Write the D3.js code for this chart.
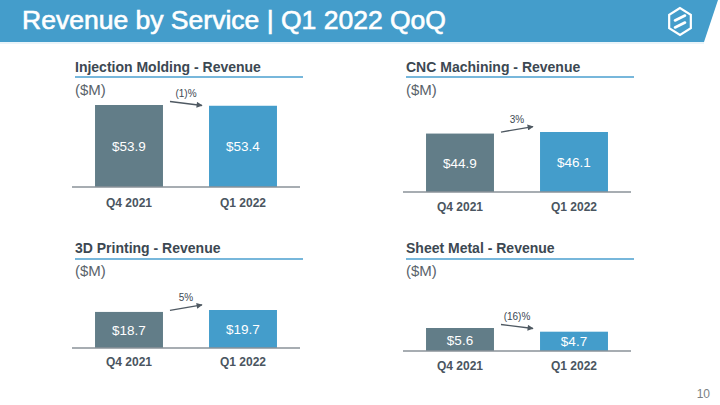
<!DOCTYPE html>
<html>
<head>
<meta charset="utf-8">
<script src="https://cdn.jsdelivr.net/npm/d3@7"></script>
<style>
  html, body { margin: 0; padding: 0; background: #ffffff; }
  svg { display: block; }
</style>
</head>
<body>
<svg id="chart" width="720" height="405"></svg>
<script>
// ---- data ----
const pageTitle = "Revenue by Service | Q1 2022 QoQ";
const pageNumber = "10";
const categories = ["Q4 2021", "Q1 2022"];
const panelTitles = ["Injection Molding - Revenue", "CNC Machining - Revenue", "3D Printing - Revenue", "Sheet Metal - Revenue"];
const unitLabel = "($M)";
const injectionMolding = [53.9, 53.4];
const cncMachining = [44.9, 46.1];
const printing3d = [18.7, 19.7];
const sheetMetal = [5.6, 4.7];
const changeLabels = ["(1)%", "3%", "5%", "(16)%"];
const seriesValues = [injectionMolding, cncMachining, printing3d, sheetMetal];

// ---- layout ----
const panels = [
  { x0: 72, titleY: 72, lineY: 77, unitY: 95, base: 187, top: 105, catY: 207 },
  { x0: 403, titleY: 72, lineY: 77, unitY: 95, base: 192, top: 132, catY: 211 },
  { x0: 72, titleY: 253, lineY: 259, unitY: 276, base: 348, top: 310, catY: 366 },
  { x0: 403, titleY: 253, lineY: 259, unitY: 276, base: 351, top: 328, catY: 370 }
];
const barColors = ["#627d88", "#449dcb"];
const textDark = "#3c4852";
const font = "'Liberation Sans', Arial, sans-serif";

const svg = d3.select("#chart");

// header band
svg.append("path")
  .attr("d", "M0,0 L718,0 L704,42 L0,42 Z")
  .attr("fill", "#449dcb");
svg.append("line").attr("x1", 0).attr("x2", 704).attr("y1", 43).attr("y2", 43)
  .attr("stroke", "#d6e9f4").attr("stroke-width", 1.2);
svg.append("text")
  .attr("x", 22).attr("y", 29)
  .attr("font-family", "'Liberation Sans Narrow', 'Liberation Sans', Arial, sans-serif")
  .attr("font-size", 25).attr("font-weight", 400)
  .attr("fill", "#ffffff").attr("stroke", "#ffffff").attr("stroke-width", 0.6)
  .attr("textLength", 424).attr("lengthAdjust", "spacingAndGlyphs")
  .text(pageTitle);

// logo
const logo = svg.append("g").attr("transform", "translate(680,21.5)");
const hex = d3.range(6).map(i => {
  const a = Math.PI / 2 + i * Math.PI / 3;
  return [12.5 * Math.cos(a), -13.5 * Math.sin(a)];
});
logo.append("path").attr("d", d3.line()(hex) + "Z")
  .attr("fill", "none").attr("stroke", "#fff").attr("stroke-width", 2.2).attr("stroke-linejoin", "miter");
logo.append("path").attr("d", "M-5,-1 L5,-6").attr("stroke", "#fff").attr("stroke-width", 2.6).attr("stroke-linecap", "round");
logo.append("path").attr("d", "M-5,6 L5,1").attr("stroke", "#fff").attr("stroke-width", 2.6).attr("stroke-linecap", "round");

// arrow marker
const defs = svg.append("defs");
defs.append("marker").attr("id", "arrow")
  .attr("viewBox", "0 0 10 10").attr("refX", 9).attr("refY", 5)
  .attr("markerWidth", 7).attr("markerHeight", 6).attr("markerUnits", "userSpaceOnUse")
  .attr("orient", "auto")
  .append("path").attr("d", "M0,0 L10,5 L0,10 Z").attr("fill", "#4f5962");

panels.forEach((p, i) => {
  const vals = seriesValues[i];
  const g = svg.append("g");
  const x = d3.scaleBand().domain(categories).range([p.x0, p.x0 + 228]).paddingInner(0.404).paddingOuter(0.202);
  const maxV = d3.max(vals);
  const y = d3.scaleLinear().domain([0, maxV]).range([p.base, p.top]);

  // title
  g.append("text").attr("x", p.x0 + 3).attr("y", p.titleY)
    .attr("font-family", font).attr("font-size", 14).attr("font-weight", 700)
    .attr("fill", textDark).text(panelTitles[i]);
  g.append("line").attr("x1", p.x0 + 3).attr("x2", p.x0 + 231)
    .attr("y1", p.lineY).attr("y2", p.lineY)
    .attr("stroke", "#4a9fcf").attr("stroke-width", 1.6);
  g.append("text").attr("x", p.x0 + 3).attr("y", p.unitY)
    .attr("font-family", font).attr("font-size", 15)
    .attr("fill", "#5a636b").text(unitLabel);

  // bars
  g.selectAll("rect.bar").data(vals).join("rect")
    .attr("x", (d, j) => x(categories[j]))
    .attr("width", x.bandwidth())
    .attr("y", d => y(d))
    .attr("height", d => y(0) - y(d))
    .attr("fill", (d, j) => barColors[j]);

  // value labels
  g.selectAll("text.val").data(vals).join("text")
    .attr("x", (d, j) => x(categories[j]) + x.bandwidth() / 2)
    .attr("y", d => (y(d) + y(0)) / 2 + 5)
    .attr("text-anchor", "middle")
    .attr("font-family", font).attr("font-size", 13.5)
    .attr("fill", "#ffffff")
    .text(d => "$" + d.toFixed(1));

  // axis
  const axis = d3.axisBottom(x).tickSize(0).tickPadding(12);
  const ag = g.append("g").attr("transform", `translate(0,${p.base})`).call(axis);
  ag.select(".domain").attr("stroke", "#8a9299").attr("stroke-width", 1.5)
    .attr("d", `M${p.x0},0H${p.x0 + 228}`);
  ag.selectAll("text")
    .attr("font-family", font).attr("font-size", 12).attr("font-weight", 700)
    .attr("fill", "#4a5560")
    .attr("y", p.catY - p.base).attr("dy", 0);

  // change arrow
  const up = vals[1] >= vals[0];
  const ax0 = x(categories[0]) + x.bandwidth() + 7;
  const ax1 = x(categories[1]) - 7;
  const ay0 = up ? y(vals[0]) - 1.5 : y(vals[0]) - 3.5;
  const ay1 = up ? ay0 - 5.5 : ay0 + 4;
  g.append("line")
    .attr("x1", ax0).attr("y1", ay0)
    .attr("x2", ax1).attr("y2", ay1)
    .attr("stroke", "#4f5962").attr("stroke-width", 1.3)
    .attr("marker-end", "url(#arrow)");
  g.append("text")
    .attr("x", (ax0 + ax1) / 2).attr("y", (ay0 + ay1) / 2 - 6.5)
    .attr("text-anchor", "middle")
    .attr("font-family", font).attr("font-size", 10)
    .attr("fill", textDark).text(changeLabels[i]);
});

svg.append("text").attr("x", 710).attr("y", 398).attr("text-anchor", "end")
  .attr("font-family", font).attr("font-size", 12).attr("fill", "#7a7f84")
  .text(pageNumber);
</script>
</body>
</html>
